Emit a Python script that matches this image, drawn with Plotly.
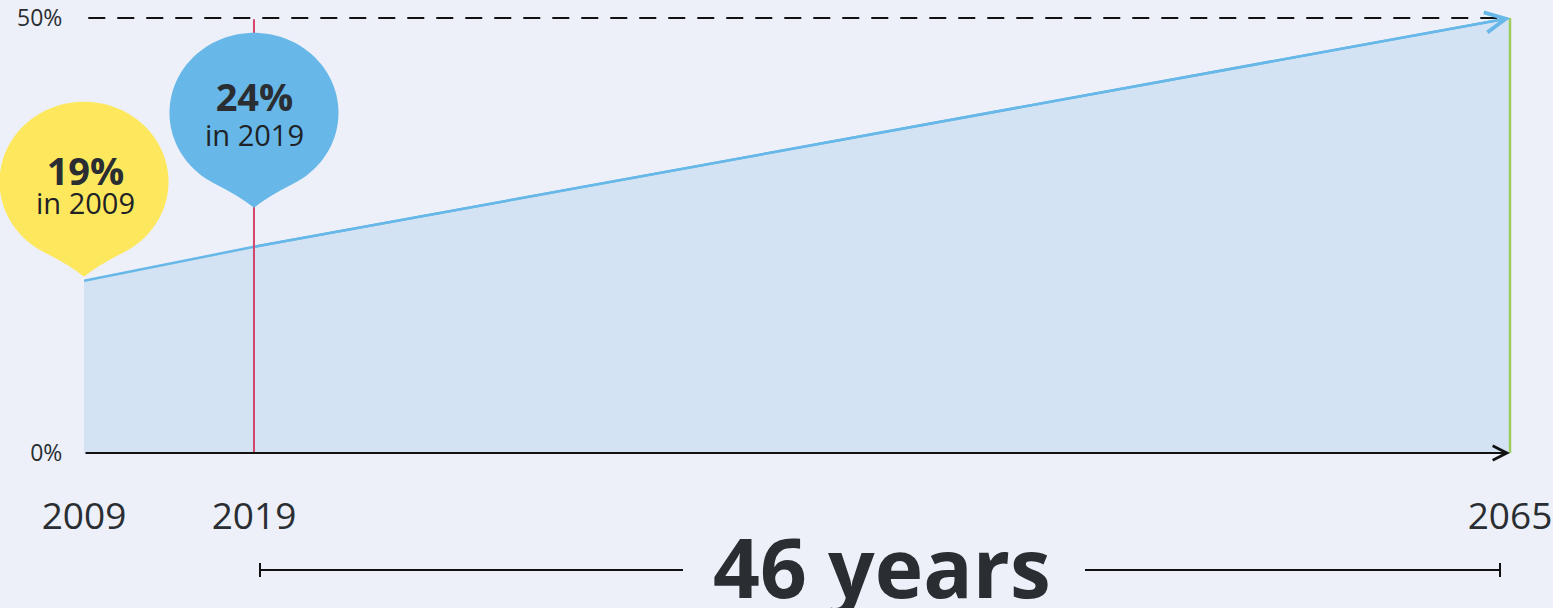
import numpy as np
import plotly.graph_objects as go

# ---------------- data (line values) ----------------
years = [2009, 2019, 2065]
share_pct = [19.8, 23.7, 50]
year_labels = ["2009", "2019", "2065"]
pct_ticks = [0, 50]
pct_tick_labels = ["0%", "50%"]
bubble_values = ["19%", "24%"]
bubble_captions = ["in 2009", "in 2019"]
span_label = "46 years"

# ---------------- schematic time scale (piecewise-linear, as drawn in the reference) ----------------
AXIS_YEARS = [2009, 2019, 2065]
AXIS_FRAC = [0.0, 0.1192, 1.0]
Y_MAX = 50.0


def xpos(yr):
    return float(np.interp(yr, AXIS_YEARS, AXIS_FRAC))


def yfrac(v):
    # data value -> paper fraction of the plot area (y range is [0, Y_MAX])
    return v / Y_MAX


# ---------------- styles ----------------
BG = "#EDF0F8"
AREA = "#D3E3F3"
BLUE = "#67B8E8"
YELLOW = "#FDE85D"
RED = "#D4436B"
GREEN = "#9CCB5E"
INK = "#2A2E33"
FONT = "Open Sans"


def teardrop(lift, rx=84.5, ry=80.0, c=95.0, join_deg=-62.0, ctrl=30.0):
    a0 = np.radians(join_deg)
    angs = np.linspace(a0, np.pi - a0, 90)
    pts = [(rx * np.cos(a), lift + c + ry * np.sin(a)) for a in angs]
    jx, jy = pts[0]
    tx, ty = -rx * np.sin(a0), ry * np.cos(a0)
    n = np.hypot(tx, ty)
    tx, ty = tx / n, ty / n
    cx, cy = jx - ctrl * tx, jy - ctrl * ty
    p = f"M0,{lift} Q{cx:.2f},{cy:.2f} {jx:.2f},{jy:.2f} "
    p += " ".join(f"L{x:.2f},{y:.2f}" for x, y in pts[1:])
    p += f" Q{-cx:.2f},{cy:.2f} 0,{lift} Z"
    return p


xs = [xpos(y) for y in years]

fig = go.Figure()
fig.add_trace(go.Scatter(
    x=xs, y=share_pct, mode="lines", fill="tozeroy",
    fillcolor=AREA, line=dict(color=BLUE, width=2.5),
    hoverinfo="skip", showlegend=False, cliponaxis=False,
))

shapes = []
# 50% dashed reference
shapes.append(dict(type="line", xref="paper", yref="paper", x0=xs[0] + 0.003, x1=xs[-1] - 0.006,
                   y0=yfrac(pct_ticks[1]), y1=yfrac(pct_ticks[1]),
                   line=dict(color="#111111", width=2, dash="17px,12px")))
# 2019 marker line
shapes.append(dict(type="line", xref="paper", yref="paper", x0=xs[1], x1=xs[1], y0=0, y1=yfrac(pct_ticks[1]) - 0.003,
                   line=dict(color=RED, width=2)))
# 2065 marker line
shapes.append(dict(type="line", xref="paper", yref="paper", x0=xs[-1], x1=xs[-1], y0=0, y1=yfrac(share_pct[-1]),
                   line=dict(color=GREEN, width=2.5)))
# bubbles
shapes.append(dict(type="path", xref="paper", yref="paper", xsizemode="pixel", ysizemode="pixel",
                   xanchor=xs[0], yanchor=yfrac(share_pct[0]), path=teardrop(4),
                   fillcolor=YELLOW, line=dict(width=0)))
shapes.append(dict(type="path", xref="paper", yref="paper", xsizemode="pixel", ysizemode="pixel",
                   xanchor=xs[1], yanchor=yfrac(share_pct[1]), path=teardrop(39),
                   fillcolor=BLUE, line=dict(width=0)))
# span bracket (2019 -> 2065)
BR_Y = -117
for anchor, a, b in [(xs[1], 6, 429), (xs[-1], -425, -10)]:
    shapes.append(dict(type="line", xref="paper", yref="paper", xsizemode="pixel", ysizemode="pixel",
                       xanchor=anchor, yanchor=0, x0=a, x1=b, y0=BR_Y, y1=BR_Y,
                       line=dict(color="#111111", width=2)))
for anchor, a in [(xs[1], 6), (xs[-1], -10)]:
    shapes.append(dict(type="line", xref="paper", yref="paper", xsizemode="pixel", ysizemode="pixel",
                       xanchor=anchor, yanchor=0, x0=a, x1=a, y0=BR_Y + 7, y1=BR_Y - 7,
                       line=dict(color="#111111", width=2)))

annotations = []
# x axis arrow
annotations.append(dict(x=xs[-1], y=0, ax=xs[0], ay=0, xref="x", yref="y", axref="x", ayref="y",
                        text="", showarrow=True, arrowhead=5, arrowsize=1.4, arrowwidth=2,
                        arrowcolor="#111111", standoff=0))
# projection arrow on line
annotations.append(dict(x=xs[-1], y=share_pct[-1], ax=xs[1], ay=share_pct[1], xref="x", yref="y",
                        axref="x", ayref="y", text="", showarrow=True, arrowhead=5, arrowsize=1.6,
                        arrowwidth=2.5, arrowcolor=BLUE, standoff=0))
# bubble texts (value + caption as one two-line label; base size sets the line spacing)
for i, (base, xsft, ysft) in enumerate([(22, 1, 98), (27, 1, 135)]):
    txt = (f"<span style='font-size:38px'><b>{bubble_values[i]}</b></span><br>"
           f"<span style='font-size:29px;color:#1E2226'>{bubble_captions[i]}</span>")
    annotations.append(dict(x=xs[i], y=share_pct[i], xref="x", yref="y", text=txt,
                            showarrow=False, xshift=xsft, yshift=ysft, align="center",
                            font=dict(family=FONT, size=base, color=INK)))
# span label
annotations.append(dict(x=(xs[1] + xs[-1]) / 2, y=0, xref="x", yref="y", text=f"<b>{span_label}</b>",
                        showarrow=False, yshift=-113, font=dict(family=FONT, size=82, color=INK)))

fig.update_layout(
    width=1553, height=608,
    margin=dict(l=84, r=43, t=18, b=155, autoexpand=False),
    paper_bgcolor=BG, plot_bgcolor=BG,
    showlegend=False,
    shapes=shapes, annotations=annotations,
    xaxis=dict(range=[0, 1], showgrid=False, zeroline=False, showline=False, automargin=False,
               tickvals=xs, ticktext=year_labels, ticks="outside", ticklen=31,
               tickcolor="rgba(0,0,0,0)", tickfont=dict(family=FONT, size=37, color=INK)),
    yaxis=dict(range=[0, Y_MAX], showgrid=False, zeroline=False, showline=False, automargin=False,
               tickvals=pct_ticks, ticktext=pct_tick_labels, ticks="outside", ticklen=16,
               tickcolor="rgba(0,0,0,0)", tickfont=dict(family=FONT, size=23, color=INK)),
)

fig.write_html("out.html", config={"displayModeBar": False},
               post_script="document.body.style.margin='0';document.body.style.overflow='hidden';")
